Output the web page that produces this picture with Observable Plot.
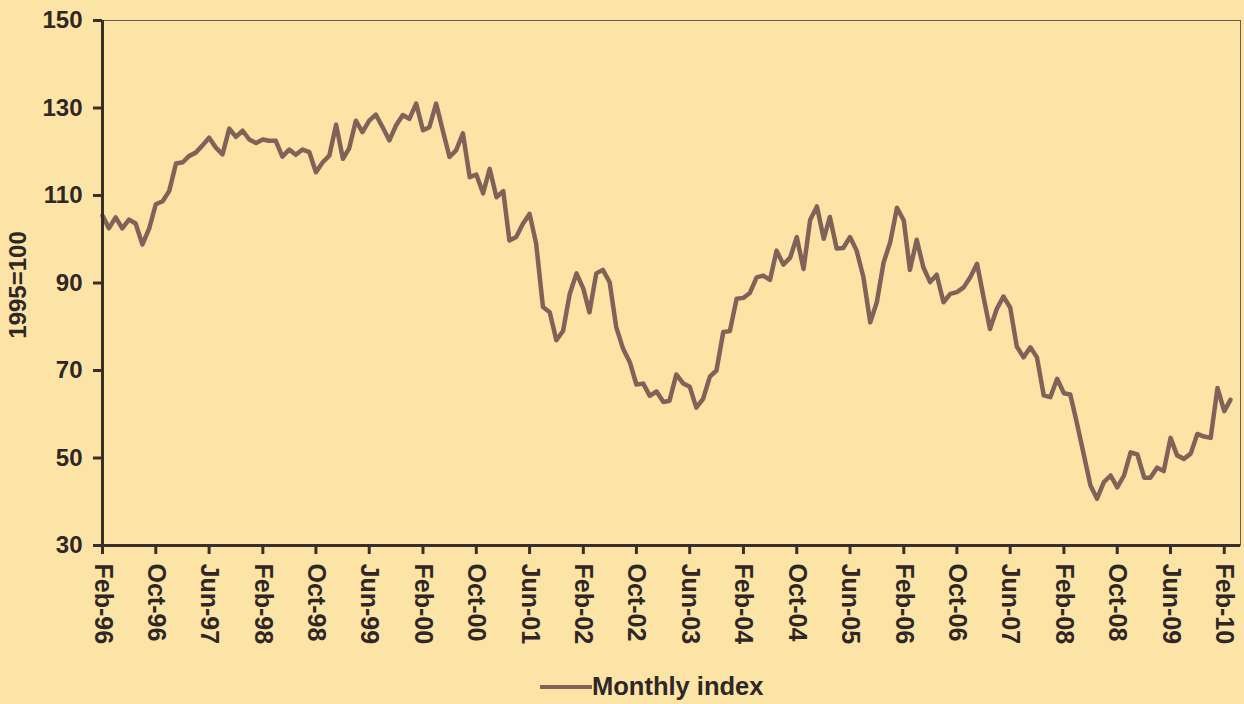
<!DOCTYPE html>
<html><head><meta charset="utf-8">
<script src="https://cdn.jsdelivr.net/npm/d3@7"></script>
<script src="https://cdn.jsdelivr.net/npm/@observablehq/plot@0.6"></script>
<style>
html,body{margin:0;padding:0;background:#fce4a6;}
#chart{width:1244px;height:670px;}
.legend{height:34px;position:relative;font:bold 25.5px "Liberation Sans",Arial,sans-serif;color:#2e2725;}
.legend .sw{position:absolute;left:540px;top:15px;width:52px;height:4px;background:#806258;}
.legend .lb{position:absolute;left:592px;top:2px;}
</style></head><body>
<div id="chart"></div>
<div class="legend"><span class="sw"></span><span class="lb" id="lb"></span></div>
<script>
const startMonth = "Feb-96";
const seriesName = "Monthly index";
const yLabel = "1995=100";
const values = [
 105.4,102.5,105,102.5,104.5,103.6,98.8,102.5,108,108.7,111,117.3,
 117.6,119,119.8,121.4,123.2,121,119.4,125.3,123.4,124.8,122.8,122,
 122.8,122.5,122.5,118.9,120.5,119.3,120.5,119.9,115.3,117.6,119.1,126.2,
 118.4,120.7,127.1,124.5,127.1,128.5,125.6,122.6,126,128.4,127.5,131,
 124.9,125.6,131,124.9,118.8,120.3,124.2,114.2,114.8,110.5,116.1,109.6,
 111,99.7,100.5,103.5,105.8,99,84.5,83.3,76.9,79.1,87.5,92.2,
 88.7,83.3,92.2,93,90.2,79.9,75,71.9,66.8,67,64.2,65.2,
 62.8,63.1,69.1,67.1,66.3,61.5,63.5,68.6,70,78.8,79,86.4,
 86.6,87.7,91.3,91.7,90.7,97.4,94.2,95.8,100.5,93.2,104.4,107.5,
 100.1,105.1,97.9,98,100.5,97.4,91.3,81,85.6,94.7,99.3,107.2,
 104.3,93,99.9,93.6,90.2,91.9,85.6,87.5,87.9,89,91.3,94.4,
 86.4,79.5,84.1,86.9,84.4,75.5,73,75.3,73,64.3,63.9,68.1,
 64.8,64.5,57.8,50.9,43.7,40.7,44.5,46,43.3,46,51.3,50.8,
 45.5,45.5,47.8,47,54.6,50.6,49.8,51,55.5,54.9,54.6,66,
 60.7,63.3
];
const tickLabels = ["Feb-96","Oct-96","Jun-97","Feb-98","Oct-98","Jun-99","Feb-00","Oct-00",
 "Jun-01","Feb-02","Oct-02","Jun-03","Feb-04","Oct-04","Jun-05","Feb-06","Oct-06","Jun-07",
 "Feb-08","Oct-08","Jun-09","Feb-10"];
const yTicks = [30,50,70,90,110,130,150];

const parse = d3.utcParse("%b-%y");
const fmt = d3.utcFormat("%b-%y");
const start = parse(startMonth);
const data = values.map((v, i) => ({date: d3.utcMonth.offset(start, i), value: v}));
const xTicks = tickLabels.map(parse);
const xEnd = d3.utcDay.offset(d3.utcMonth.offset(start, 170), 15);

const axisColor = "#3a2e2a";
const textColor = "#2e2725";

const chart = Plot.plot({
  width: 1244,
  height: 670,
  marginLeft: 102,
  marginRight: 4,
  marginTop: 20,
  marginBottom: 125,
  style: {background: "transparent", fontFamily: "'Liberation Sans', Arial, sans-serif", fontWeight: "bold", color: textColor},
  x: {type: "utc", domain: [start, xEnd]},
  y: {domain: [30, 150]},
  marks: [
    Plot.frame({stroke: "#6b5d58", strokeWidth: 1}),
    Plot.axisY({ticks: yTicks, tickSize: 9, tickPadding: 11, strokeWidth: 3, stroke: axisColor, fontSize: 24, fill: textColor, label: null}),
    Plot.axisX({ticks: xTicks, tickFormat: fmt, tickSize: 9, tickPadding: 9, tickRotate: 90, strokeWidth: 3, stroke: axisColor, fontSize: 25, fill: textColor, label: null}),
    Plot.text([yLabel], {frameAnchor: "left", dx: -84, dy: 2, rotate: -90, textAnchor: "middle", fontSize: 24, fill: textColor, fontWeight: "bold"}),
    Plot.line(data, {x: "date", y: "value", stroke: "#806258", strokeWidth: 4.5, strokeLinejoin: "round"}),
    Plot.ruleX([start], {stroke: axisColor, strokeWidth: 3}),
    Plot.ruleY([30], {stroke: axisColor, strokeWidth: 3})
  ]
});
document.getElementById("chart").appendChild(chart);
document.getElementById("lb").textContent = seriesName;
</script>
</body></html>
